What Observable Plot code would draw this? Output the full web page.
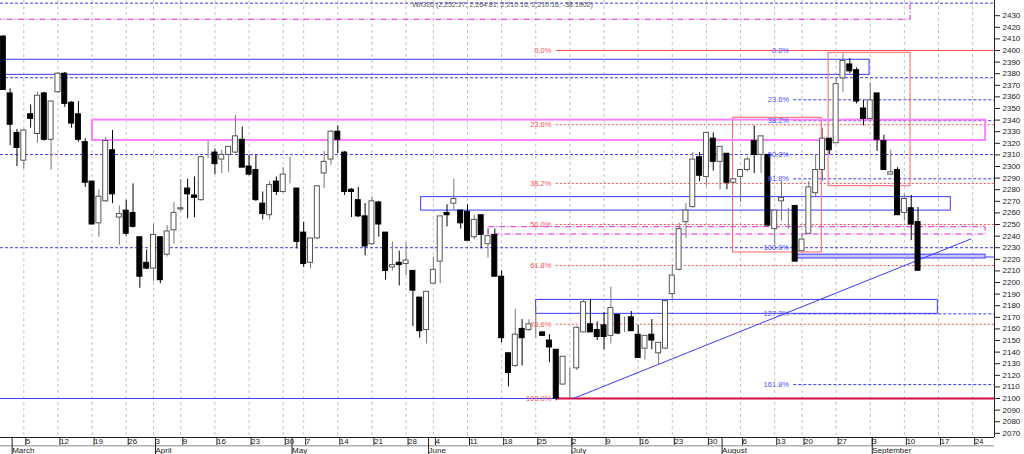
<!DOCTYPE html>
<html><head><meta charset="utf-8">
<script src="https://cdn.jsdelivr.net/npm/d3@7"></script>
<script src="https://cdn.jsdelivr.net/npm/@observablehq/plot@0.6"></script>
<style>body{margin:0;background:#fff} svg{display:block}</style>
</head><body><div id="chart"></div>
<script>
// trading-day index of the first candle (Mar 5, 2018 = 0)
const firstIndex = -3;
const opens = [2412,2363,2329,2305,2345,2328,2363,2323,2364,2380,2355,2345,2321,2287,2251,2270,2314,2256,2262,2260,2239,2217,2212,2239,2224,
2245,2263,2281,2275,2271,2312,2312,2306,2310,2312,2323,2300,2297,2268,2258,2287,2278,2294,2281,2243,2217,2238,2294,2306,
2330,2312,2280,2271,2257,2233,2269,2243,2213,2217,2216,2210,2187,2159,2199,2218,2260,2268,2262,2261,2239,2258,2233,2241,
2205,2139,2128,2160,2159,2156,2157,2150,2142,2112,2120,2126,2157,2164,2159,2163,2154,2172,2162,2170,2155,2143,2155,2139,
2143,2190,2211,2252,2265,2308,2291,2324,2304,2311,2286,2291,2297,2322,2310,2310,2246,2270,2264,2266,2227,2242,2277,2297,
2324,2320,2376,2388,2383,2350,2341,2363,2322,2293,2297,2260,2264,2252.17];
const highs = [2413,2367,2332,2332,2353,2364,2364,2356,2381,2381,2356,2356,2324,2287,2280,2325,2331,2266,2271,2285,2239,2228,2250,2239,2249,
2269,2289,2289,2291,2309,2322,2315,2314,2317,2344,2334,2310,2310,2278,2287,2291,2299,2308,2281,2252,2238,2283,2313,2331,
2335,2313,2281,2282,2268,2274,2270,2243,2235,2227,2234,2210,2187,2192,2222,2257,2267,2289,2262,2267,2258,2258,2246,2246,
2210,2139,2177,2168,2168,2179,2157,2155,2142,2136,2126,2162,2185,2185,2166,2174,2196,2172,2170,2175,2163,2154,2168,2148,
2185,2215,2251,2268,2312,2312,2329,2329,2317,2311,2289,2297,2308,2335,2326,2310,2262,2287,2264,2266,2242,2287,2310,2333,
2324,2376,2397,2393,2385,2357,2372,2363,2327,2314,2299,2276,2275,2264.81];
const lows = [2366,2318,2300,2298,2333,2320,2322,2297,2363,2351,2333,2321,2282,2250,2239,2269,2268,2232,2240,2247,2195,2211,2201,2199,2222,
2233,2261,2255,2256,2270,2307,2293,2294,2295,2311,2299,2292,2270,2254,2254,2275,2277,2285,2229,2213,2212,2237,2281,2301,
2311,2275,2256,2256,2223,2232,2239,2202,2210,2197,2206,2162,2152,2147,2199,2199,2248,2262,2246,2236,2237,2229,2221,2205,
2148,2110,2127,2128,2158,2152,2154,2131,2098,2112,2100,2124,2157,2157,2150,2142,2147,2155,2157,2158,2135,2133,2142,2129,
2142,2185,2210,2238,2264,2287,2283,2296,2280,2280,2285,2269,2295,2294,2294,2249,2232,2253,2246,2218,2227,2242,2274,2287,
2310,2320,2364,2380,2354,2335,2341,2313,2297,2293,2258,2253,2236,2210.16];
const closes = [2366,2336,2316,2331,2341,2361,2323,2356,2380,2354,2337,2323,2286,2250,2274,2322,2276,2259,2242,2248,2205,2212,2241,2202,2244,
2260,2264,2276,2273,2308,2312,2302,2310,2317,2326,2299,2293,2271,2259,2284,2278,2293,2294,2235,2216,2238,2283,2304,2330,
2323,2278,2278,2257,2231,2270,2250,2210,2215,2215,2219,2193,2158,2192,2211,2257,2258,2272,2251,2236,2254,2241,2240,2205,
2152,2122,2155,2152,2164,2156,2154,2144,2100,2136,2120,2161,2183,2157,2153,2153,2178,2156,2162,2158,2135,2154,2150,2148,
2184,2206,2246,2262,2306,2292,2329,2304,2317,2286,2289,2297,2306,2310,2326,2249,2262,2273,2264,2218,2237,2282,2297,2324,
2314,2371,2391,2382,2356,2341,2357,2323,2297,2295,2258,2272,2250,2210.16];

const weekTicks  = [0,5,10,15,19,23,28,33,38,41,46,51,56,60,65,70,75,80,85,90,95,100,105,110,114,119,124,129,134,139];
const weekLabels = ["5","12","19","26","3","9","16","23","30","7","14","21","28","4","11","18","25","2","9","16","23","30","6","13","20","27","3","10","17","24"];
const monthTicks  = [-2,19,39,59,80,102,124];
const monthLabels = ["March","April","May","June","July","August","September"];
const yTicks = d3.range(2070, 2431, 10);

const header = "WIG20 (2,252.17, 2,264.81, 2,210.16, 2,210.16, -38.1902)";

// Fibonacci retracement (red: 2400 -> 2100)
const redLevels = [2336, 2285.4, 2250, 2214.6, 2164];
const redLabels = ["0.0%","23.6%","38.2%","50.0%","61.8%","78.6%","100.0%"];
const redLabelValues = [2400, 2336, 2285.4, 2250, 2214.6, 2164, 2100];
// Fibonacci (blue)
const blueLevels = [2357.5, 2339.5, 2289.4, 2173, 2112];
const blueLabels = ["0.0%","23.6%","38.2%","50.0%","61.8%","100.0%","127.2%","161.8%"];
const blueLabelValues = [2400, 2357.5, 2339.5, 2310.3, 2289.4, 2230, 2173, 2112];
const blueDashedFull = [2440.8, 2376.5, 2310.3, 2230];

// zones: [x1, x2, y1, y2]
const blueZones = [[-10,123.9,2379,2392],[58.2,135.8,2262,2273.6],[75.05,133.9,2173,2185]];
const blueThinZone = [[112.8,140.9,2220.7,2224]];
const redZones = [[103.9,116.9,2225.9,2342],[117.9,129.9,2283,2398]];
const magentaZones = [[10.06,140.9,2322.4,2340]];
const magentaDashZones = [[68.1,140.9,2241.4,2247.7],[-10,129.9,2426.5,2470]];
const trend = [{x1:80.5, y1:2100, x2:138.8, y2:2237.7}];

const xDomain = [-3.413, 142.2];
const yDomain = [2066.4, 2443.1];

const candles = opens.map((o,k)=>({i:firstIndex+k, o, h:highs[k], l:lows[k], c:closes[k]}));
const up = candles.filter(d=>d.c>=d.o), down = candles.filter(d=>d.c<d.o);
const zone = a => a.map(([x1,x2,y1,y2])=>({x1,x2,y1,y2}));
const wMap = new Map(weekTicks.map((t,k)=>[t,weekLabels[k]]));
const mMap = new Map(monthTicks.map((t,k)=>[t,monthLabels[k]]));
const BLUE="#3a3aff", RED="#ff5050", MAG="#ff80ff";
const fibRed = redLabels.map((t,k)=>({t, v:redLabelValues[k]}));
const fibBlue = blueLabels.map((t,k)=>({t, v:blueLabelValues[k]}));
const half = 0.365;

const chart = Plot.plot({
  width:1024, height:454, marginLeft:0, marginRight:30, marginTop:0, marginBottom:17,
  style:{fontFamily:"Liberation Sans, Arial, sans-serif", fontSize:"8px", background:"#fff", color:"#222"},
  x:{domain:xDomain, axis:null},
  y:{domain:yDomain, axis:null},
  marks:[
    Plot.ruleX(weekTicks, {stroke:"#c4c4c4", strokeDasharray:"3,3"}),
    Plot.ruleY(blueDashedFull, {stroke:BLUE, strokeDasharray:"3,2"}),
    Plot.ruleY(blueLevels, {x1:112.8, x2:xDomain[1], stroke:BLUE, strokeDasharray:"3,2"}),
    Plot.ruleY(redLevels, {x1:78, x2:xDomain[1], stroke:RED, strokeDasharray:"2,2"}),
    Plot.ruleY([2400], {x1:78, x2:xDomain[1], stroke:RED}),
    Plot.ruleY([2100], {x1:xDomain[0], x2:78, stroke:BLUE}),
    Plot.ruleY([2100], {x1:78, x2:xDomain[1], stroke:"#d0103a", strokeWidth:2}),
    Plot.ruleY([2222], {x1:140.9, x2:xDomain[1], stroke:BLUE}),
    Plot.rect(zone(magentaDashZones), {x1:"x1",x2:"x2",y1:"y1",y2:"y2", fill:"none", stroke:"#e020e0", strokeDasharray:"6,2,1,2", clip:true}),
    Plot.rect(zone(blueZones), {x1:"x1",x2:"x2",y1:"y1",y2:"y2", fill:"none", stroke:BLUE, clip:true}),
    Plot.rect(zone(blueThinZone), {x1:"x1",x2:"x2",y1:"y1",y2:"y2", fill:"#c8c8ff", stroke:BLUE}),
    Plot.rect(zone(redZones), {x1:"x1",x2:"x2",y1:"y1",y2:"y2", fill:"none", stroke:"#ff6060"}),
    Plot.rect(zone(magentaZones), {x1:"x1",x2:"x2",y1:"y1",y2:"y2", fill:"none", stroke:MAG, strokeWidth:2}),
    Plot.link(trend, {x1:"x1", y1:"y1", x2:"x2", y2:"y2", stroke:BLUE}),
    Plot.ruleX(up, {x:"i", y1:"l", y2:"h", stroke:"#777"}),
    Plot.ruleX(down, {x:"i", y1:"l", y2:"h", stroke:"#000"}),
    Plot.rect(up, {x1:d=>d.i-half, x2:d=>d.i+half, y1:"o", y2:"c", fill:"#fff", stroke:"#555"}),
    Plot.rect(down, {x1:d=>d.i-half, x2:d=>d.i+half, y1:"c", y2:"o", fill:"#000", stroke:"#000"}),
    Plot.text(fibRed, {x:77.3, y:"v", text:"t", textAnchor:"end", fill:RED, fontSize:7.5}),
    Plot.text(fibBlue, {x:112.1, y:"v", text:"t", textAnchor:"end", fill:"#5050ff", fontSize:7.5}),
    Plot.text([header], {x:56.9, y:2439.2, text:d=>d, textAnchor:"start", fill:"#555", fontSize:7}),
    Plot.ruleX([xDomain[1]], {stroke:"#222"}),
    Plot.ruleY([yDomain[0]], {stroke:"#222"}),
    Plot.ruleY([2059.2], {stroke:"#888"}),
    Plot.axisY({anchor:"right", ticks:yTicks, tickFormat:d3.format("d"), tickSize:5, tickPadding:3, fontSize:8}),
    Plot.axisX(weekTicks, {tickFormat:d=>wMap.get(d), tickSize:8, tickPadding:-7.5, textAnchor:"start", dx:2, fontSize:8}),
    Plot.axisX(monthTicks, {tickFormat:d=>mMap.get(d), tickSize:17, tickPadding:-7, textAnchor:"start", dx:2, fontSize:8})
  ]
});
document.getElementById("chart").appendChild(chart);
</script>
</body></html>
